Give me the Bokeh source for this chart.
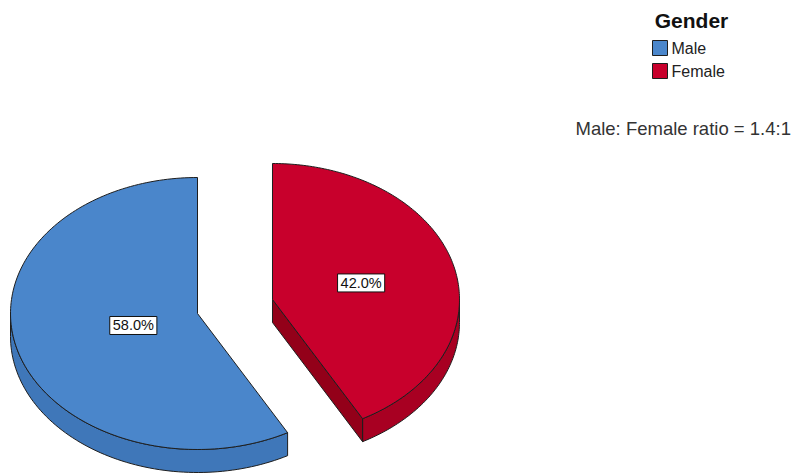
import numpy as np
from bokeh.plotting import figure
from bokeh.models import Range1d
from bokeh.embed import file_html
from bokeh.resources import INLINE
from bokeh.core.properties import value

# ---- data ----
categories = ["Male", "Female"]
percent = [58.0, 42.0]
top_colors = ["#4a86cb", "#c8002c"]
side_colors = ["#3f77b9", "#a80022"]
cut_colors = ["#35689f", "#930019"]
legend_title = "Gender"
note = "Male: Female ratio = 1.4:1"

# ---- layout (data units = screen pixels) ----
W, H = 795, 475
FONT = "Liberation Sans"
p = figure(width=W, height=H, x_range=Range1d(0, W), y_range=Range1d(H, 0),
           output_backend="svg", toolbar_location=None, min_border=0,
           x_axis_location=None, y_axis_location=None, outline_line_color=None)
p.grid.visible = False
p.background_fill_color = "white"
p.border_fill_color = "white"

CX, CY = 234.5, 306.0      # pie centre
RX, RY = 187.0, 136.0      # ellipse radii (tilted view)
DEPTH = 23.0               # thickness
EXPLODE = 0.207            # explode fraction of radius


def pt(cx, cy, th, dz=0.0):
    return cx + RX * np.cos(th), cy - RY * np.sin(th) + dz


fracs = np.array(percent) / np.sum(percent)
starts = np.pi / 2 + 2 * np.pi * np.concatenate([[0], np.cumsum(fracs)[:-1]])
ends = starts + 2 * np.pi * fracs

side_xs, side_ys, side_c = [], [], []
top_xs, top_ys = [], []
lab_x, lab_y, lab_t = [], [], []

for i, (s, e) in enumerate(zip(starts, ends)):
    m = (s + e) / 2
    cx = CX + EXPLODE * RX * np.cos(m)
    cy = CY - EXPLODE * RY * np.sin(m)
    # visible outer rim: parts where sin(theta) < 0
    for k in range(-1, 3):
        a = max(s, np.pi + 2 * np.pi * k)
        b = min(e, 2 * np.pi + 2 * np.pi * k)
        if b > a:
            th = np.linspace(a, b, 80)
            x1, y1 = pt(cx, cy, th)
            x2, y2 = pt(cx, cy, th[::-1], DEPTH)
            side_xs.append(list(np.concatenate([x1, x2])))
            side_ys.append(list(np.concatenate([y1, y2])))
            side_c.append(side_colors[i])
    # visible cut faces
    for th, vis in ((s, np.cos(s) > 1e-6), (e, np.cos(e) < -1e-6)):
        if vis:
            ex, ey = pt(cx, cy, th)
            side_xs.append([cx, ex, ex, cx])
            side_ys.append([cy, ey, ey + DEPTH, cy + DEPTH])
            side_c.append(cut_colors[i])
    # top surface
    th = np.linspace(s, e, 160)
    x, y = pt(cx, cy, th)
    top_xs.append([cx] + list(x))
    top_ys.append([cy] + list(y))
    # label at area centroid
    half = (e - s) / 2
    d = (2.0 / 3.0) * np.sin(half) / half
    lab_x.append(cx + d * RX * np.cos(m))
    lab_y.append(cy - d * RY * np.sin(m))
    lab_t.append(f"{percent[i]:.1f}%")

p.patches(side_xs, side_ys, fill_color=side_c, line_color="#1e1e1e", line_width=1)
p.patches(top_xs, top_ys, fill_color=top_colors, line_color="#1e1e1e", line_width=1)

p.text(x=lab_x, y=lab_y, text=lab_t, text_align="center", text_baseline="middle",
       text_font=value(FONT), text_font_size="14.5px", text_color="#111111",
       background_fill_color="white", border_line_color="#111111", border_line_width=1,
       padding=(3, 1))

# ---- legend ----
p.text(x=[691], y=[20], text=[legend_title], text_align="center", text_baseline="middle",
       text_font=value(FONT), text_font_style="bold", text_font_size="21px", text_color="#111111")
leg_y = [47.5, 70.5]
p.rect(x=[659.5] * len(categories), y=leg_y, width=15, height=15,
       fill_color=top_colors, line_color="#1e1e1e", line_width=1)
p.text(x=[671] * len(categories), y=leg_y, text=categories, text_align="left",
       text_baseline="middle", text_font=value(FONT), text_font_size="16px", text_color="#222222")

p.text(x=[575], y=[128], text=[note], text_align="left", text_baseline="middle",
       text_font=value(FONT), text_font_size="18.5px", text_color="#333333")

open("out.html", "w").write(file_html(p, INLINE))
